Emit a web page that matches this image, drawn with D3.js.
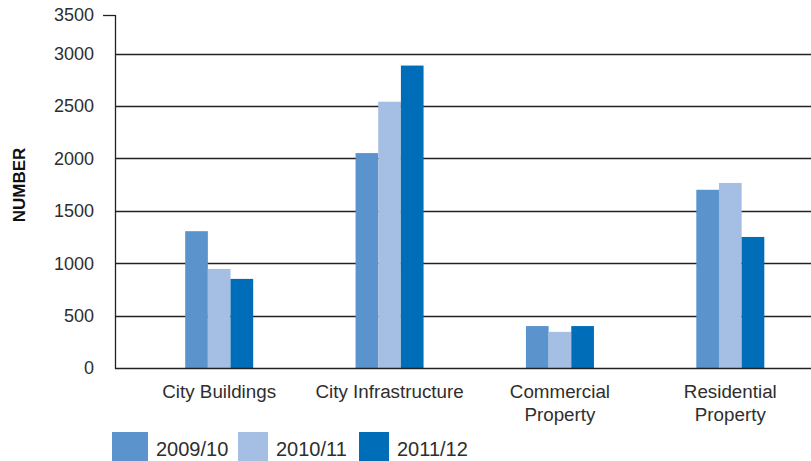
<!DOCTYPE html>
<html><head><meta charset="utf-8">
<script src="https://cdn.jsdelivr.net/npm/d3@7"></script>
<style>body{margin:0;background:#fff}svg{display:block}text{font-family:"Liberation Sans",Arial,sans-serif;fill:#2e2e2e}</style>
</head><body><svg id="c" width="811" height="461"></svg>
<script>
const categories = [["City Buildings"],["City Infrastructure"],["Commercial","Property"],["Residential","Property"]];
const seriesNames = ["2009/10","2010/11","2011/12"];
const s2009 = [1305, 2050, 400, 1700];
const s2010 = [945, 2540, 345, 1765];
const s2011 = [850, 2885, 400, 1250];
const yTicks = [0,500,1000,1500,2000,2500,3000,3500];
const colors = ["#5b93cd","#a5bee3","#006db8"];

const series = [s2009, s2010, s2011];
const svg = d3.select("#c");
const axisX = 115, baseY = 368;
// original chart compresses the top interval (3000–3500)
const y = d3.scaleLinear().domain([0,3000,3500]).range([baseY, 53.5, 15]);
const x = d3.scaleBand().domain(d3.range(categories.length)).range([134, 815.5]);
const inner = d3.scaleBand().domain(d3.range(seriesNames.length)).range([-34, 34]);

// gridlines
svg.append("g").selectAll("line").data(yTicks.filter(t=>t>0 && t<3500)).join("line")
  .attr("x1", axisX).attr("x2", 811).attr("y1", d=>Math.round(y(d))+0.5).attr("y2", d=>Math.round(y(d))+0.5)
  .attr("stroke","#222").attr("stroke-width",1.3);

// bars
const g = svg.append("g");
series.forEach((s, si) => {
  g.selectAll(null).data(s).join("rect")
    .attr("x", (d,i)=> x(i)+x.bandwidth()/2 + inner(si))
    .attr("width", inner.bandwidth())
    .attr("y", d=>y(d)).attr("height", d=>baseY - y(d))
    .attr("fill", colors[si]);
});

// baseline and axis
svg.append("line").attr("x1",axisX).attr("x2",811).attr("y1",baseY+0.5).attr("y2",baseY+0.5).attr("stroke","#222").attr("stroke-width",1.3);
svg.append("line").attr("x1",axisX+0.5).attr("x2",axisX+0.5).attr("y1",y(3500)).attr("y2",baseY+1).attr("stroke","#222").attr("stroke-width",1.3);
svg.append("line").attr("x1",103).attr("x2",axisX).attr("y1",y(3500)+0.5).attr("y2",y(3500)+0.5).attr("stroke","#222").attr("stroke-width",1.3);

// tick labels
svg.append("g").selectAll("text").data(yTicks).join("text")
  .attr("x", 94).attr("y", d=>y(d)).attr("dy","0.36em").attr("text-anchor","end")
  .style("font-size","18px").text(d=>d);

// y title
svg.append("text").attr("transform","translate(25,185) rotate(-90)").attr("text-anchor","middle")
  .style("font-size","17px").style("font-weight","bold").style("fill","#111").text("NUMBER");

// category labels
categories.forEach((lines,i)=>{
  const t = svg.append("text").attr("x", x(i)+x.bandwidth()/2).attr("y", 398).attr("text-anchor","middle").style("font-size","18.8px");
  lines.forEach((l,j)=> t.append("tspan").attr("x", x(i)+x.bandwidth()/2).attr("dy", j===0?0:23).text(l));
});

// legend
const legX = [112, 238, 359];
const leg = svg.append("g");
seriesNames.forEach((n,i)=>{
  leg.append("rect").attr("x",legX[i]).attr("y",432).attr("width", i===0?36:30).attr("height",30).attr("fill",colors[i]);
  leg.append("text").attr("x",legX[i]+(i===0?44:38)).attr("y",456).style("font-size","20px").text(n);
});
</script></body></html>
